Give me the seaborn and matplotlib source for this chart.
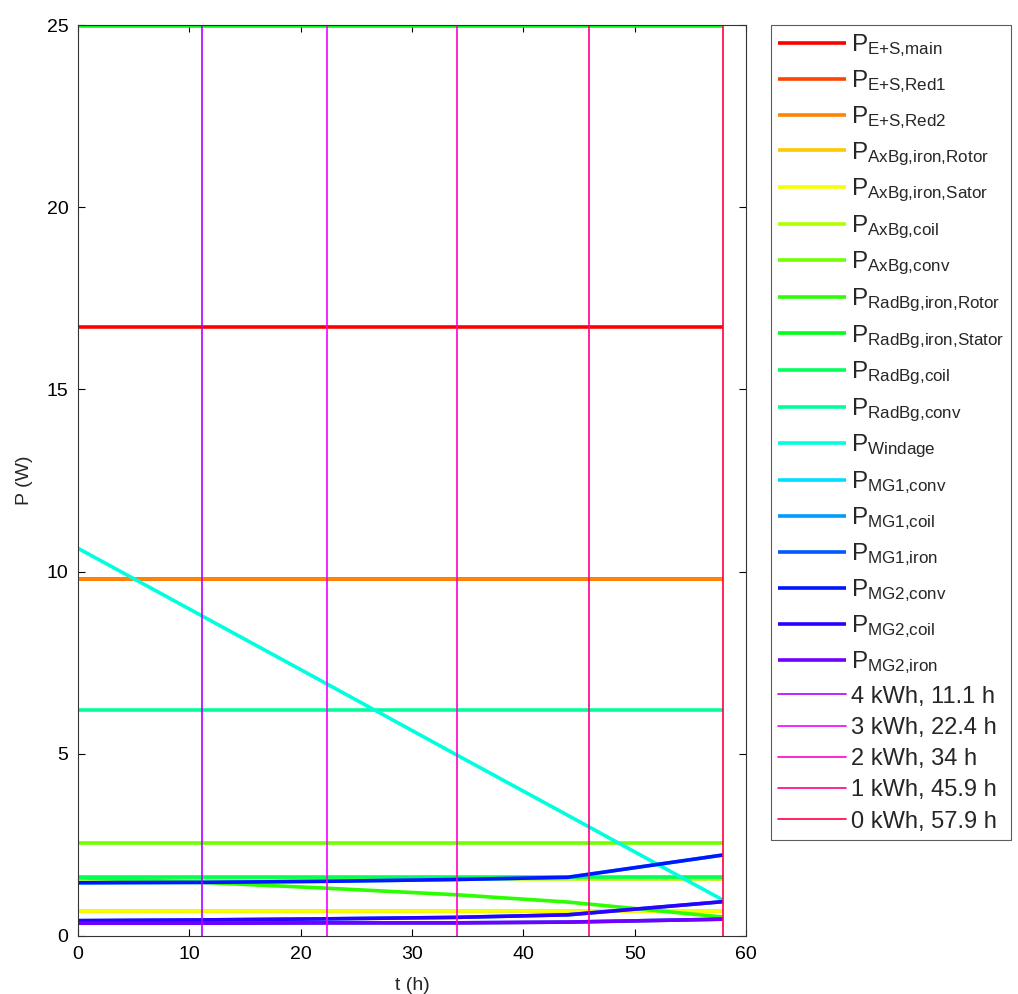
import colorsys
import numpy as np
import pandas as pd
import matplotlib
matplotlib.use("Agg")
import matplotlib.pyplot as plt
import seaborn as sns

# ---- data ----
t = [0, 11.1, 22.4, 34, 44, 57.9]

series_names = [
    r"P$_{\mathrm{E{+}S{,}main}}$",
    r"P$_{\mathrm{E{+}S{,}Red1}}$",
    r"P$_{\mathrm{E{+}S{,}Red2}}$",
    r"P$_{\mathrm{AxBg{,}iron{,}Rotor}}$",
    r"P$_{\mathrm{AxBg{,}iron{,}Sator}}$",
    r"P$_{\mathrm{AxBg{,}coil}}$",
    r"P$_{\mathrm{AxBg{,}conv}}$",
    r"P$_{\mathrm{RadBg{,}iron{,}Rotor}}$",
    r"P$_{\mathrm{RadBg{,}iron{,}Stator}}$",
    r"P$_{\mathrm{RadBg{,}coil}}$",
    r"P$_{\mathrm{RadBg{,}conv}}$",
    r"P$_{\mathrm{Windage}}$",
    r"P$_{\mathrm{MG1{,}conv}}$",
    r"P$_{\mathrm{MG1{,}coil}}$",
    r"P$_{\mathrm{MG1{,}iron}}$",
    r"P$_{\mathrm{MG2{,}conv}}$",
    r"P$_{\mathrm{MG2{,}coil}}$",
    r"P$_{\mathrm{MG2{,}iron}}$",
]

P_ES_main = [16.7, 16.7, 16.7, 16.7, 16.7, 16.7]
P_ES_red1 = [9.8, 9.8, 9.8, 9.8, 9.8, 9.8]
P_ES_red2 = [9.8, 9.8, 9.8, 9.8, 9.8, 9.8]
P_AxBg_iron_rotor = [0.69, 0.69, 0.69, 0.69, 0.69, 0.69]
P_AxBg_iron_stator = [0.69, 0.69, 0.69, 0.69, 0.69, 0.69]
P_AxBg_coil = [1.56, 1.56, 1.56, 1.56, 1.56, 1.56]
P_AxBg_conv = [2.54, 2.54, 2.54, 2.54, 2.54, 2.54]
P_RadBg_iron_rotor = [1.60, 1.47, 1.31, 1.13, 0.93, 0.52]
P_RadBg_iron_stator = [24.97, 24.97, 24.97, 24.97, 24.97, 24.97]
P_RadBg_coil = [1.63, 1.63, 1.63, 1.63, 1.63, 1.63]
P_RadBg_conv = [6.2, 6.2, 6.2, 6.2, 6.2, 6.2]
P_windage = [10.64, 8.79, 6.91, 4.97, 3.31, 0.99]
P_MG1_conv = [1.46, 1.47, 1.50, 1.55, 1.61, 2.22]
P_MG1_coil = [0.42, 0.44, 0.47, 0.51, 0.58, 0.94]
P_MG1_iron = [0.35, 0.35, 0.36, 0.36, 0.38, 0.46]
P_MG2_conv = [1.46, 1.47, 1.50, 1.55, 1.61, 2.22]
P_MG2_coil = [0.42, 0.44, 0.47, 0.51, 0.58, 0.94]
P_MG2_iron = [0.35, 0.35, 0.36, 0.36, 0.38, 0.46]

series_values = [
    P_ES_main, P_ES_red1, P_ES_red2, P_AxBg_iron_rotor, P_AxBg_iron_stator,
    P_AxBg_coil, P_AxBg_conv, P_RadBg_iron_rotor, P_RadBg_iron_stator,
    P_RadBg_coil, P_RadBg_conv, P_windage, P_MG1_conv, P_MG1_coil,
    P_MG1_iron, P_MG2_conv, P_MG2_coil, P_MG2_iron,
]

energy_labels = ["4 kWh, 11.1 h", "3 kWh, 22.4 h", "2 kWh, 34 h",
                 "1 kWh, 45.9 h", "0 kWh, 57.9 h"]
energy_times = [11.1, 22.4, 34, 45.9, 57.9]

x_ticks = [0, 10, 20, 30, 40, 50, 60]
y_ticks = [0, 5, 10, 15, 20, 25]

# ---- style ----
sns.set_theme(style="white")
plt.rcParams["font.family"] = ["Liberation Sans", "DejaVu Sans"]
plt.rcParams["mathtext.fontset"] = "custom"
plt.rcParams["mathtext.rm"] = "Liberation Sans"
plt.rcParams["mathtext.it"] = "Liberation Sans:italic"
plt.rcParams["mathtext.bf"] = "Liberation Sans:bold"

n_total = len(series_names) + len(energy_labels)
colors = [colorsys.hsv_to_rgb(i / n_total, 1.0, 1.0) for i in range(n_total)]

fig = plt.figure(figsize=(10.18, 9.94), dpi=100)
ax = fig.add_axes([0.0766, 0.0584, 0.6562, 0.9164])

for i, (name, vals) in enumerate(zip(series_names, series_values)):
    df = pd.DataFrame({"t": t, "P": vals})
    sns.lineplot(data=df, x="t", y="P", ax=ax, color=colors[i], linewidth=2.6,
                 label=name, legend=False, solid_capstyle="butt")

for j, (lab, tv) in enumerate(zip(energy_labels, energy_times)):
    ax.axvline(tv, color=colors[len(series_names) + j], linewidth=1.2, label=lab)

ax.set_xlim(0, 60)
ax.set_ylim(0, 25)
ax.set_xticks(x_ticks)
ax.set_yticks(y_ticks)
ax.tick_params(direction="in", top=True, right=True, bottom=True, left=True,
               length=5, width=0.8, labelsize=14, colors="black", pad=7)
for s in ax.spines.values():
    s.set_color("#333333")
    s.set_linewidth(0.8)
ax.set_xlabel("t (h)", fontsize=14, labelpad=10)
ax.set_ylabel("P (W)", fontsize=14, labelpad=10)

handles, labels = ax.get_legend_handles_labels()
leg = ax.legend(handles, labels, loc="upper left", bbox_to_anchor=(1.037, 1.0),
                fontsize=17, frameon=True, fancybox=False, shadow=False,
                handlelength=2.9, handletextpad=0.2, labelspacing=0.39,
                borderpad=0.3, borderaxespad=0)
for k, txt in enumerate(leg.get_texts()):
    if k < len(series_names):
        txt.set_fontsize(17.5)
leg.get_frame().set_edgecolor("#333333")
leg.get_frame().set_linewidth(0.8)

fig.savefig("out.png", dpi=100)
